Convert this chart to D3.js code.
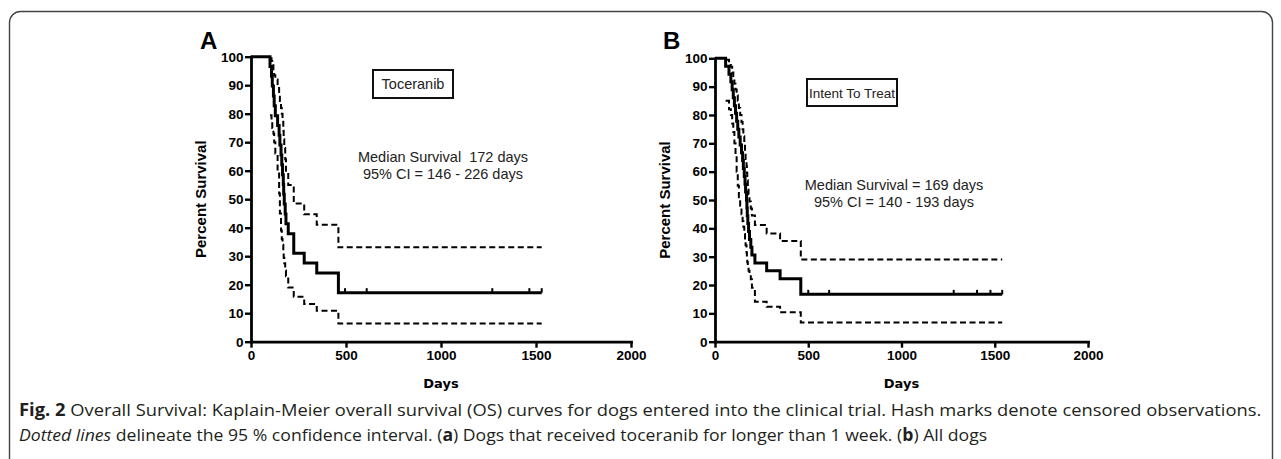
<!DOCTYPE html>
<html>
<head>
<meta charset="utf-8">
<script src="https://cdn.jsdelivr.net/npm/d3@7"></script>
<style>
  html, body { margin: 0; padding: 0; background: #fff; }
  svg { display: block; }
</style>
</head>
<body>
<svg id="chart" width="1281" height="459"></svg>
<script>
// ---------- Data ----------
// Panel A: Toceranib
const daysA  = [0,100,108,112,118,122,128,140,148,152,158,162,166,170,172,175,180,184,196,225,280,346,460,1530];
const survA  = [100,96.6,93.1,89.7,86.2,82.8,79.3,75.9,72.4,69.0,65.5,62.1,58.6,55.2,51.7,48.3,44.8,41.4,37.9,31.0,27.6,24.1,17.2,17.2];
const upperA = [100,99.5,98.5,97,95,93.5,92,89,86.5,84.5,82,80,78,74,71,68,64,60,55,48.5,44.7,41,33.1,33.1];
const lowerA = [100,79.5,77,75,73,70,66,59,52,45,39,36,34,31.5,29.5,27.5,25,23,19,15.8,13.2,10.9,6.4,6.4];
const censorA = [495,609,1270,1465,1530];

// Panel B: Intent To Treat
const daysB  = [0,57,75,85,92,98,104,110,116,122,128,135,142,148,152,157,161,164,169,171,173,176,180,185,192,198,214,277,349,460,1540];
const survB  = [100,97.2,94.4,91.7,88.9,86.1,83.3,80.6,77.8,75,72.2,69.4,66.7,63.9,61.1,58.3,55.6,52.8,50,47.2,44.4,41.7,38.9,36.1,33.3,30.6,27.8,25,22.2,16.7,16.7];
const upperB = [100,99.5,98.5,97,95,93,91,89,87,85,82.5,80,77.5,75,72.5,70,67,64.5,62,59.5,57,54.5,52,49.5,47,44.5,41.2,38.2,35.5,29,29];
const lowerB = [100,85,82,80,77,74,70,66,60,55,51,48,45,42.5,40.6,38,36,34,31.5,29.5,28,26.5,25,23.5,22,19,14.1,12.3,10.4,6.8,6.8];
const censorB = [500,612,1280,1405,1477,1540];

const yTicks = [0,10,20,30,40,50,60,70,80,90,100];
const xTicks = [0,500,1000,1500,2000];

const panelLabels = ["A","B"];
const boxLabels = ["Toceranib","Intent To Treat"];
const medianLines = [
  ["Median Survival\u00a0\u00a0172 days","95% CI = 146 - 226 days"],
  ["Median Survival = 169 days","95% CI = 140 - 193 days"]
];
const yTitle = "Percent Survival";
const xTitle = "Days";

// ---------- Drawing ----------
const svg = d3.select("#chart");

// outer frame
svg.append("rect")
  .attr("x", 9.5).attr("y", 11.5)
  .attr("width", 1263).attr("height", 470)
  .attr("rx", 11).attr("ry", 11)
  .attr("fill", "none").attr("stroke", "#444").attr("stroke-width", 1.4);

const panels = [
  {days: daysA, surv: survA, upper: upperA, lower: lowerA, censor: censorA,
   xr: [251, 631], yr: [341.7, 56.7], label: panelLabels[0], labelX: 200,
   box: {x: 373, y: 70, w: 80, h: 28, text: boxLabels[0], fs: 14.5},
   med: {x: 443, y1: 162, y2: 179, lines: medianLines[0]}},
  {days: daysB, surv: survB, upper: upperB, lower: lowerB, censor: censorB,
   xr: [715, 1088], yr: [341.7, 58.3], label: panelLabels[1], labelX: 663,
   box: {x: 807, y: 79, w: 90, h: 27, text: boxLabels[1], fs: 13.5},
   med: {x: 894, y1: 189.5, y2: 207, lines: medianLines[1]}}
];

const font = "'Liberation Sans', Arial, sans-serif";

panels.forEach(p => {
  const x = d3.scaleLinear().domain([0, 2000]).range(p.xr);
  const y = d3.scaleLinear().domain([0, 100]).range(p.yr);
  const g = svg.append("g");

  // axes
  const yAxis = d3.axisLeft(y).tickValues(yTicks).tickSize(6).tickSizeOuter(0).tickPadding(1.5)
    .tickFormat(d3.format("d"));
  const xAxis = d3.axisBottom(x).tickValues(xTicks).tickSize(6).tickSizeOuter(0).tickPadding(3)
    .tickFormat(d3.format("d"));

  const gy = g.append("g").attr("transform", `translate(${p.xr[0]},0)`).call(yAxis);
  const gx = g.append("g").attr("transform", `translate(0,${p.yr[0]})`).call(xAxis);
  [gx, gy].forEach(ax => {
    ax.select(".domain").attr("stroke", "#000").attr("stroke-width", 2.8).attr("stroke-linecap", "square");
    ax.selectAll(".tick line").attr("stroke", "#000").attr("stroke-width", 2.4);
    ax.selectAll(".tick text").attr("fill", "#000")
      .style("font-family", font).style("font-weight", "bold").style("font-size", "13.5px");
  });

  // axis titles
  g.append("text")
    .attr("transform", `translate(${p.xr[0] - 45},${(p.yr[0] + p.yr[1]) / 2}) rotate(-90)`)
    .attr("text-anchor", "middle")
    .style("font-family", font).style("font-weight", "bold").style("font-size", "15px")
    .text(yTitle);
  g.append("text")
    .attr("x", (p.xr[0] + p.xr[1]) / 2).attr("y", 388)
    .attr("text-anchor", "middle")
    .style("font-family", "'DejaVu Sans', Verdana, sans-serif").style("font-weight", "bold").style("font-size", "13px")
    .text(xTitle);

  // panel letter
  g.append("text")
    .attr("x", p.labelX).attr("y", 49)
    .style("font-family", font).style("font-weight", "bold").style("font-size", "24px")
    .text(p.label);

  // step line generator
  const line = d3.line()
    .x(d => x(d[0])).y(d => y(d[1]))
    .curve(d3.curveStepAfter);

  const mk = arr => p.days.map((d, i) => [d, arr[i]]);

  // confidence bands (dashed), start at the first event
  [p.upper, p.lower].forEach(arr => {
    g.append("path")
      .datum(mk(arr).slice(1))
      .attr("d", line)
      .attr("fill", "none").attr("stroke", "#000").attr("stroke-width", 2)
      .attr("stroke-dasharray", "6,3.5");
  });

  // survival curve
  g.append("path")
    .datum(mk(p.surv))
    .attr("d", line)
    .attr("fill", "none").attr("stroke", "#000").attr("stroke-width", 3);

  // censor marks
  const survAt = t => {
    let v = p.surv[0];
    for (let i = 0; i < p.days.length; i++) if (p.days[i] <= t) v = p.surv[i];
    return v;
  };
  g.selectAll(".cens").data(p.censor).enter().append("line")
    .attr("x1", d => x(d)).attr("x2", d => x(d))
    .attr("y1", d => y(survAt(d))).attr("y2", d => y(survAt(d)) - 4.5)
    .attr("stroke", "#000").attr("stroke-width", 2);

  // label box
  g.append("rect")
    .attr("x", p.box.x).attr("y", p.box.y).attr("width", p.box.w).attr("height", p.box.h)
    .attr("fill", "#fff").attr("stroke", "#111").attr("stroke-width", 2);
  g.append("text")
    .attr("x", p.box.x + p.box.w / 2).attr("y", p.box.y + p.box.h / 2 + 5)
    .attr("text-anchor", "middle")
    .style("font-family", font).style("font-size", p.box.fs + "px").attr("fill", "#222")
    .text(p.box.text);

  // median annotation
  g.append("text")
    .attr("x", p.med.x).attr("y", p.med.y1).attr("text-anchor", "middle")
    .style("font-family", font).style("font-size", "14.5px").attr("fill", "#222")
    .text(p.med.lines[0]);
  g.append("text")
    .attr("x", p.med.x).attr("y", p.med.y2).attr("text-anchor", "middle")
    .style("font-family", font).style("font-size", "14.5px").attr("fill", "#222")
    .text(p.med.lines[1]);
});

// ---------- Caption ----------
const capFont = "'Open Sans', 'Noto Sans', sans-serif";
function captionLine(parts, xPos, yPos, targetW) {
  const t = svg.append("text")
    .style("font-family", capFont).style("font-size", "17px").attr("fill", "#231f20");
  parts.forEach(pt => {
    const s = t.append("tspan").text(pt.t);
    if (pt.b) s.style("font-weight", "bold");
    if (pt.i) s.style("font-style", "italic");
  });
  const w = t.node().getComputedTextLength();
  t.attr("transform", `translate(${xPos},${yPos}) scale(${targetW / w},1)`);
}
captionLine([
  {t: "Fig. 2", b: true},
  {t: " Overall Survival: Kaplain-Meier overall survival (OS) curves for dogs entered into the clinical trial. Hash marks denote censored observations."}
], 19, 416, 1243);
captionLine([
  {t: "Dotted lines", i: true},
  {t: " delineate the 95 % confidence interval. ("},
  {t: "a", b: true},
  {t: ") Dogs that received toceranib for longer than 1 week. ("},
  {t: "b", b: true},
  {t: ") All dogs"}
], 19, 441, 969);
</script>
</body>
</html>
